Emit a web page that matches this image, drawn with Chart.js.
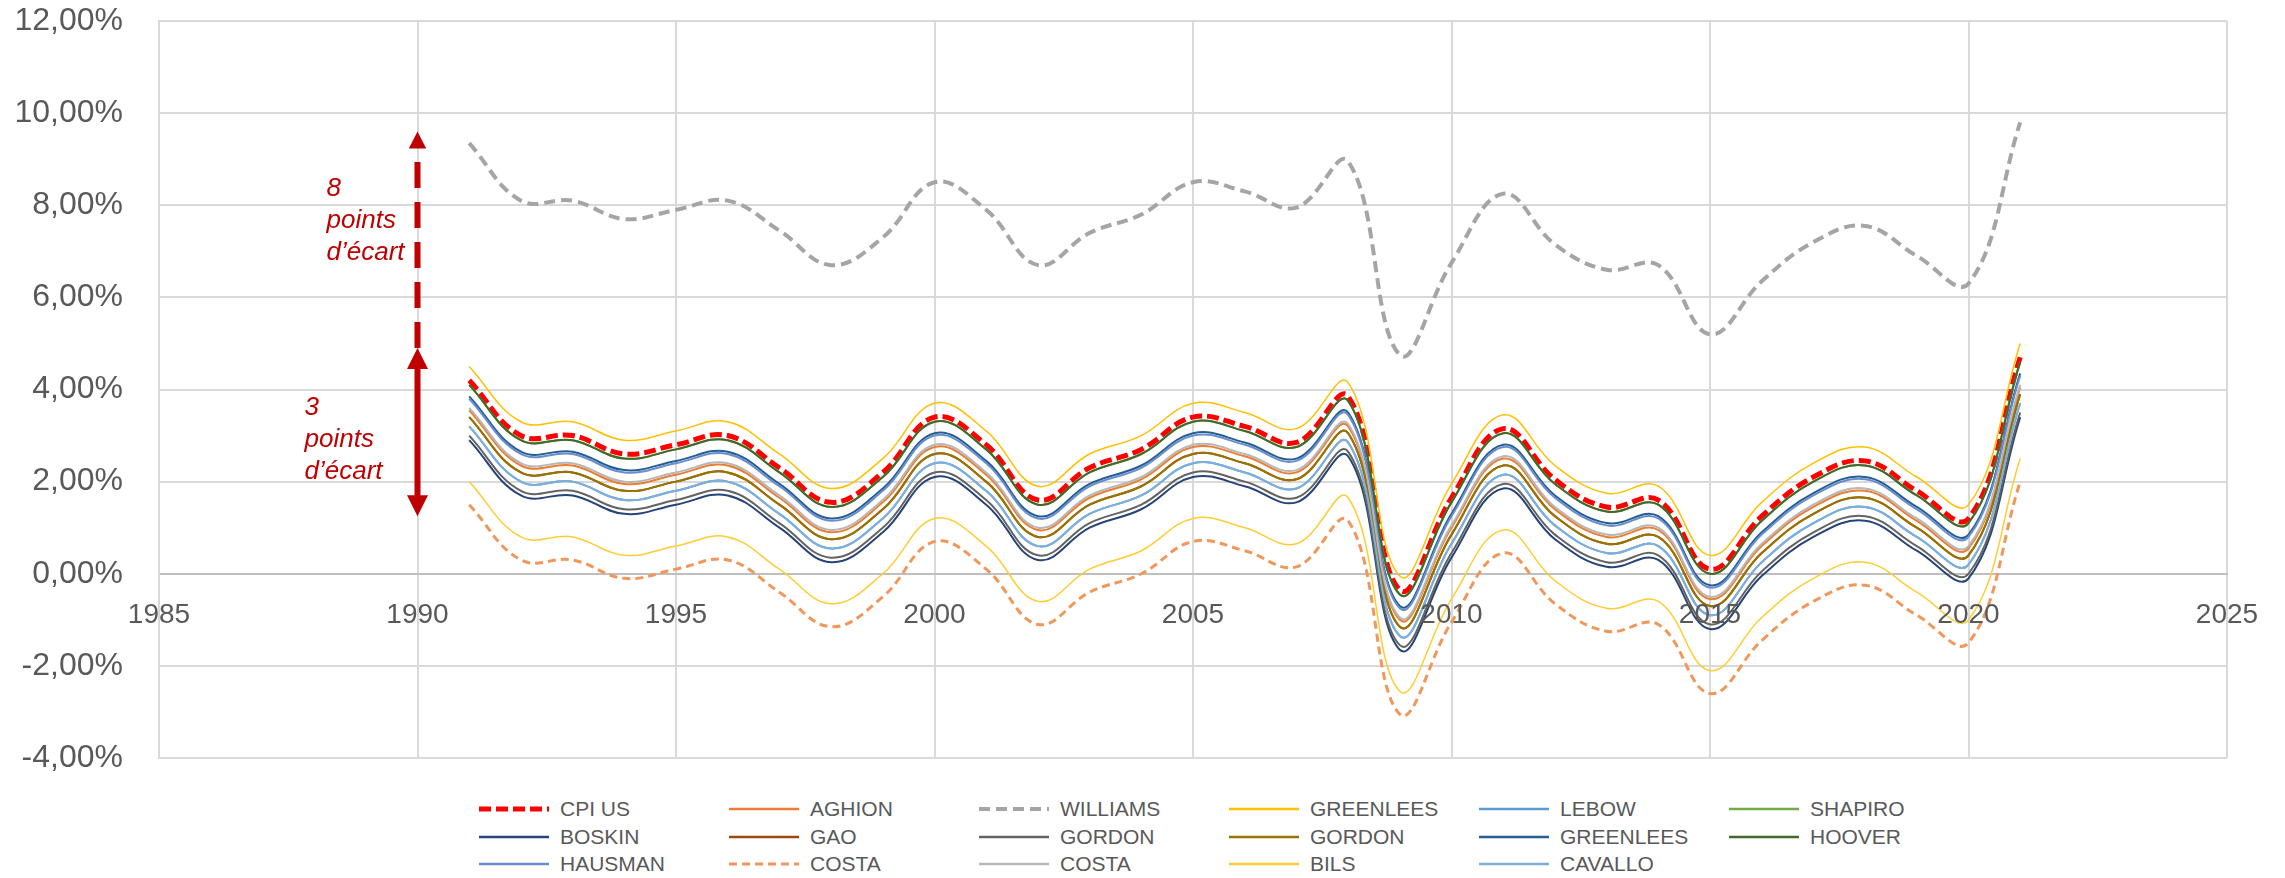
<!DOCTYPE html>
<html lang="fr">
<head>
<meta charset="UTF-8">
<title>Inflation US et biais de mesure</title>
<script src="https://cdn.jsdelivr.net/npm/chart.js"></script>
<style>
  html, body { margin: 0; padding: 0; background: #fff; }
  #wrap { position: relative; width: 2285px; height: 878px; }
  #chartBox { position: absolute; left: 0; top: 0; width: 2285px; height: 790px; }
  #legend {
    position: absolute; left: 479px; top: 795px;
    display: grid; grid-template-columns: repeat(6, 250px); grid-auto-rows: 27.7px;
    font-family: 'Liberation Sans', Arial, sans-serif; font-size: 21px; color: #595959;
  }
  .item { display: flex; align-items: center; white-space: nowrap; }
  .item svg { margin-right: 11px; flex: none; }
</style>
</head>
<body>
<div id="wrap">
  <div id="chartBox"><canvas id="cpiChart"></canvas></div>
  <div id="legend"></div>
</div>
<script>
// years on the x axis
const years = [1991, 1992, 1993, 1994, 1995, 1996, 1997, 1998, 1999, 2000,
               2001, 2002, 2003, 2004, 2005, 2006, 2007, 2008, 2009, 2010,
               2011, 2012, 2013, 2014, 2015, 2016, 2017, 2018, 2019, 2020, 2021];

// values in %
const cpiUS      = [4.2, 3.0, 3.0, 2.6, 2.8, 3.0, 2.3, 1.55, 2.2, 3.4, 2.8, 1.6, 2.3, 2.7, 3.4, 3.2, 2.85, 3.85, -0.35, 1.65, 3.15, 2.05, 1.45, 1.6, 0.1, 1.25, 2.1, 2.45, 1.8, 1.2, 4.7];
const aghion     = [3.55, 2.35, 2.35, 1.95, 2.15, 2.35, 1.65, 0.9, 1.55, 2.75, 2.15, 0.95, 1.65, 2.05, 2.75, 2.55, 2.2, 3.2, -1.0, 1.0, 2.5, 1.4, 0.8, 0.95, -0.55, 0.6, 1.45, 1.8, 1.15, 0.55, 4.05];
const williams   = [9.35, 8.1, 8.1, 7.7, 7.9, 8.1, 7.45, 6.7, 7.3, 8.5, 7.9, 6.7, 7.4, 7.8, 8.5, 8.3, 7.95, 8.95, 4.75, 6.75, 8.25, 7.15, 6.6, 6.7, 5.2, 6.35, 7.2, 7.55, 6.9, 6.3, 9.8];
const greenlees1 = [4.5, 3.3, 3.3, 2.9, 3.1, 3.3, 2.6, 1.85, 2.5, 3.7, 3.1, 1.9, 2.6, 3.0, 3.7, 3.5, 3.15, 4.15, -0.05, 1.95, 3.45, 2.35, 1.75, 1.9, 0.4, 1.55, 2.4, 2.75, 2.1, 1.5, 5.0];
const lebow      = [3.2, 2.0, 2.0, 1.6, 1.8, 2.0, 1.3, 0.55, 1.2, 2.4, 1.8, 0.6, 1.3, 1.7, 2.4, 2.2, 1.85, 2.85, -1.35, 0.65, 2.15, 1.05, 0.45, 0.6, -0.9, 0.25, 1.1, 1.45, 0.8, 0.2, 3.7];
const shapiro    = [4.1, 2.9, 2.9, 2.5, 2.7, 2.9, 2.2, 1.45, 2.1, 3.3, 2.7, 1.5, 2.2, 2.6, 3.3, 3.1, 2.75, 3.75, -0.45, 1.55, 3.05, 1.95, 1.35, 1.5, 0.0, 1.15, 2.0, 2.35, 1.7, 1.1, 4.6];
const boskin     = [2.9, 1.7, 1.7, 1.3, 1.5, 1.7, 1.0, 0.25, 0.9, 2.1, 1.5, 0.3, 1.0, 1.4, 2.1, 1.9, 1.55, 2.55, -1.65, 0.35, 1.85, 0.75, 0.15, 0.3, -1.2, -0.05, 0.8, 1.15, 0.5, -0.1, 3.4];
const gao        = [3.4, 2.2, 2.2, 1.8, 2.0, 2.2, 1.5, 0.75, 1.4, 2.6, 2.0, 0.8, 1.5, 1.9, 2.6, 2.4, 2.05, 3.05, -1.15, 0.85, 2.35, 1.25, 0.65, 0.8, -0.7, 0.45, 1.3, 1.65, 1.0, 0.4, 3.9];
const gordon1    = [3.0, 1.8, 1.8, 1.4, 1.6, 1.8, 1.1, 0.35, 1.0, 2.2, 1.6, 0.4, 1.1, 1.5, 2.2, 2.0, 1.65, 2.65, -1.55, 0.45, 1.95, 0.85, 0.25, 0.4, -1.1, 0.05, 0.9, 1.25, 0.6, 0.0, 3.5];
const gordon2    = [3.4, 2.2, 2.2, 1.8, 2.0, 2.2, 1.5, 0.75, 1.4, 2.6, 2.0, 0.8, 1.5, 1.9, 2.6, 2.4, 2.05, 3.05, -1.15, 0.85, 2.35, 1.25, 0.65, 0.8, -0.7, 0.45, 1.3, 1.65, 1.0, 0.4, 3.9];
const greenlees2 = [3.85, 2.65, 2.65, 2.25, 2.45, 2.65, 1.95, 1.2, 1.85, 3.05, 2.45, 1.25, 1.95, 2.35, 3.05, 2.85, 2.5, 3.5, -0.7, 1.3, 2.8, 1.7, 1.1, 1.25, -0.25, 0.9, 1.75, 2.1, 1.45, 0.85, 4.35];
const hoover     = [4.1, 2.9, 2.9, 2.5, 2.7, 2.9, 2.2, 1.45, 2.1, 3.3, 2.7, 1.5, 2.2, 2.6, 3.3, 3.1, 2.75, 3.75, -0.45, 1.55, 3.05, 1.95, 1.35, 1.5, 0.0, 1.15, 2.0, 2.35, 1.7, 1.1, 4.6];
const hausman    = [3.8, 2.6, 2.6, 2.2, 2.4, 2.6, 1.9, 1.15, 1.8, 3.0, 2.4, 1.2, 1.9, 2.3, 3.0, 2.8, 2.45, 3.45, -0.75, 1.25, 2.75, 1.65, 1.05, 1.2, -0.3, 0.85, 1.7, 2.05, 1.4, 0.8, 4.3];
const costa1     = [1.5, 0.3, 0.3, -0.1, 0.1, 0.3, -0.4, -1.15, -0.5, 0.7, 0.1, -1.1, -0.4, 0.0, 0.7, 0.5, 0.15, 1.15, -3.05, -1.05, 0.45, -0.65, -1.25, -1.1, -2.6, -1.45, -0.6, -0.25, -0.9, -1.5, 2.0];
const costa2     = [3.6, 2.4, 2.4, 2.0, 2.2, 2.4, 1.7, 0.95, 1.6, 2.8, 2.2, 1.0, 1.7, 2.1, 2.8, 2.6, 2.25, 3.25, -0.95, 1.05, 2.55, 1.45, 0.85, 1.0, -0.5, 0.65, 1.5, 1.85, 1.2, 0.6, 4.1];
const bils       = [2.0, 0.8, 0.8, 0.4, 0.6, 0.8, 0.1, -0.65, 0.0, 1.2, 0.6, -0.6, 0.1, 0.5, 1.2, 1.0, 0.65, 1.65, -2.55, -0.55, 0.95, -0.15, -0.75, -0.6, -2.1, -0.95, -0.1, 0.25, -0.4, -1.0, 2.5];
const cavallo    = [3.2, 2.0, 2.0, 1.6, 1.8, 2.0, 1.3, 0.55, 1.2, 2.4, 1.8, 0.6, 1.3, 1.7, 2.4, 2.2, 1.85, 2.85, -1.35, 0.65, 2.15, 1.05, 0.45, 0.6, -0.9, 0.25, 1.1, 1.45, 0.8, 0.2, 3.7];

const seriesNames = ['CPI US', 'AGHION', 'WILLIAMS', 'GREENLEES', 'LEBOW', 'SHAPIRO',
                     'BOSKIN', 'GAO', 'GORDON', 'GORDON', 'GREENLEES', 'HOOVER',
                     'HAUSMAN', 'COSTA', 'COSTA', 'BILS', 'CAVALLO'];
const seriesValues = [cpiUS, aghion, williams, greenlees1, lebow, shapiro,
                      boskin, gao, gordon1, gordon2, greenlees2, hoover,
                      hausman, costa1, costa2, bils, cavallo];

// the two "points d'écart" arrows
const gapYear = 1990;
const smallGap = [1.25, 4.9];
const largeGap = [4.9, 9.6];
const smallGapText = ['3', 'points', 'd\u2019écart'];
const largeGapText = ['8', 'points', 'd\u2019écart'];
const smallGapTextAt = 3.6;
const largeGapTextAt = 8.35;

// line looks (Excel palette)
const seriesStyles = [
  { color: '#FF0000', width: 5, dash: [12, 5] },
  { color: '#ED7D31', width: 2 },
  { color: '#A5A5A5', width: 4, dash: [11, 6] },
  { color: '#FFC000', width: 1.5 },
  { color: '#5B9BD5', width: 2 },
  { color: '#70AD47', width: 2 },
  { color: '#264478', width: 2 },
  { color: '#9E480E', width: 2 },
  { color: '#636363', width: 2 },
  { color: '#997300', width: 2 },
  { color: '#255E91', width: 2 },
  { color: '#43682B', width: 2 },
  { color: '#698ED0', width: 2 },
  { color: '#F1975A', width: 3, dash: [8, 5] },
  { color: '#B7B7B7', width: 2 },
  { color: '#FFCD33', width: 1.5 },
  { color: '#7CAFDD', width: 2 }
];

const FONT = "'Liberation Sans', Arial, sans-serif";
const RED = '#C00000';

const datasets = seriesNames.map((name, i) => ({
  label: name,
  data: years.map((yr, k) => ({ x: yr, y: seriesValues[i][k] })),
  borderColor: seriesStyles[i].color,
  borderWidth: seriesStyles[i].width,
  borderDash: seriesStyles[i].dash || [],
  pointRadius: 0,
  tension: 0.4,
  fill: false,
  order: -i   // later series on top, like Excel
}));

// draws the red arrows and their italic labels
const gapArrows = {
  id: 'gapArrows',
  afterDatasetsDraw(chart) {
    const { ctx, scales: { x, y } } = chart;
    const px = x.getPixelForValue(gapYear);
    ctx.save();
    ctx.fillStyle = RED;
    ctx.strokeStyle = RED;

    function head(tipY, dir, half, len) {
      ctx.beginPath();
      ctx.moveTo(px, tipY);
      ctx.lineTo(px - half, tipY + dir * len);
      ctx.lineTo(px + half, tipY + dir * len);
      ctx.closePath();
      ctx.fill();
    }

    // solid double arrow (3 points)
    const sLo = y.getPixelForValue(smallGap[0]);
    const sHi = y.getPixelForValue(smallGap[1]);
    ctx.lineWidth = 6;
    ctx.beginPath();
    ctx.moveTo(px, sLo - 18);
    ctx.lineTo(px, sHi + 18);
    ctx.stroke();
    head(sHi, 1, 10.5, 21);
    head(sLo, -1, 10.5, 21);

    // dashed arrow (8 points)
    const lLo = y.getPixelForValue(largeGap[0]);
    const lHi = y.getPixelForValue(largeGap[1]);
    ctx.setLineDash([26, 14]);
    ctx.beginPath();
    ctx.moveTo(px, lLo);
    ctx.lineTo(px, lHi + 17);
    ctx.stroke();
    ctx.setLineDash([]);
    head(lHi, 1, 8.7, 17);

    // labels
    ctx.font = 'italic 26px ' + FONT;
    ctx.textAlign = 'left';
    ctx.textBaseline = 'middle';
    largeGapText.forEach((t, k) => {
      ctx.fillText(t, px - 91, y.getPixelForValue(largeGapTextAt) + k * 32);
    });
    smallGapText.forEach((t, k) => {
      ctx.fillText(t, px - 113, y.getPixelForValue(smallGapTextAt) + k * 32);
    });
    ctx.restore();
  }
};

const chart = new Chart(document.getElementById('cpiChart'), {
  type: 'line',
  data: { datasets },
  plugins: [gapArrows],
  options: {
    responsive: true,
    maintainAspectRatio: false,
    animation: false,
    layout: { padding: { top: 21, right: 58, bottom: 32, left: 0 } },
    plugins: {
      legend: { display: false },
      tooltip: { enabled: false }
    },
    scales: {
      x: {
        type: 'linear',
        min: 1985,
        max: 2025,
        position: { y: 0 },
        ticks: {
          stepSize: 5,
          padding: 25,
          autoSkip: false,
          maxRotation: 0,
          z: 1,
          color: '#595959',
          font: { family: FONT, size: 28 },
          callback: v => String(v)
        },
        grid: { color: '#D9D9D9', lineWidth: 2, drawTicks: false },
        border: { color: '#BFBFBF', width: 2 },
        afterFit(scale) { scale.paddingLeft = 0; scale.paddingRight = 0; }
      },
      y: {
        min: -4,
        max: 12,
        ticks: {
          stepSize: 2,
          padding: 36,
          color: '#595959',
          font: { family: FONT, size: 32 },
          callback: v => v.toFixed(2).replace('.', ',') + '%'
        },
        grid: { color: '#D9D9D9', lineWidth: 2, drawTicks: false },
        border: { color: '#D9D9D9', width: 2 },
        afterFit(scale) { scale.width = 159; scale.paddingTop = 0; scale.paddingBottom = 0; }
      }
    }
  }
});

// legend laid out as a 6-column grid, like the original
const legendBox = document.getElementById('legend');
chart.data.datasets.forEach(ds => {
  const item = document.createElement('div');
  item.className = 'item';
  const dash = ds.borderDash.length ? ` stroke-dasharray="${ds.borderDash.join(' ')}"` : '';
  item.innerHTML =
    `<svg width="70" height="10"><line x1="0" y1="5" x2="70" y2="5" stroke="${ds.borderColor}" stroke-width="${Math.max(ds.borderWidth, 2.5)}"${dash}/></svg>` +
    `<span>${ds.label}</span>`;
  legendBox.appendChild(item);
});
</script>
</body>
</html>
